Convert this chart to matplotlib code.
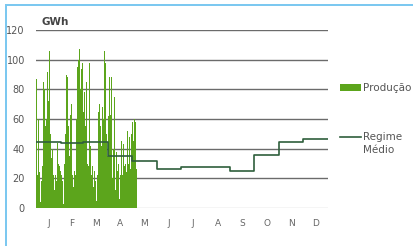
import numpy as np
import matplotlib
matplotlib.use('Agg')
import matplotlib.pyplot as plt
from matplotlib.patches import Rectangle
from matplotlib.lines import Line2D

# daily production (GWh), from 1 January
producao = [87, 22, 32, 60, 24, 4, 18, 30, 28, 85, 80, 55, 54, 60, 92, 72, 106, 62, 50, 34,
            40, 22, 26, 12, 22, 18, 44, 32, 30, 28, 25, 22, 42, 18, 3, 30, 50, 103, 90, 88,
            55, 35, 30, 63, 70, 22, 14, 8, 25, 22, 60, 95, 82, 100, 107, 80, 94, 80, 98, 65,
            78, 55, 80, 85, 30, 28, 98, 80, 42, 22, 28, 14, 38, 25, 18, 5, 22, 30, 65, 70,
            55, 42, 52, 68, 60, 106, 98, 60, 50, 35, 62, 88, 50, 63, 88, 20, 40, 30, 75, 12,
            38, 25, 12, 30, 6, 22, 45, 32, 22, 43, 28, 30, 40, 24, 52, 30, 48, 38, 26, 50,
            58, 45, 30, 60, 58, 26]

# monthly average regime (GWh/day)
regime_medio = [44.3, 43.6, 44.3, 35.2, 31.6, 26.4, 27.8, 27.8, 25.0, 35.5, 44.2, 46.5]

meses = ['J', 'F', 'M', 'A', 'M', 'J', 'J', 'A', 'S', 'O', 'N', 'D']
dias_mes = [31, 28, 31, 30, 31, 30, 31, 31, 30, 31, 30, 31]

W, H = 413, 247
fig = plt.figure(figsize=(W / 100, H / 100), dpi=100)


def fx(px):
  return px / W


def fy(py):
  return 1 - py / H


ax = fig.add_axes([fx(36), fy(208), fx(328) - fx(36), fy(30) - fy(208)])

inicio = np.concatenate([[0], np.cumsum(dias_mes)])
centros = (inicio[:-1] + inicio[1:]) / 2

ax.bar(np.arange(len(producao)) + 0.5, producao, width=1.0, color='#5ca51c', linewidth=0, zorder=2)

xs = list(inicio)
ys = regime_medio + [regime_medio[-1]]
ax.step(xs, ys, where='post', color='#2f5f3c', lw=1.2, zorder=3)

for v in range(20, 121, 20):
  ax.axhline(v, color='#6b6b6b', lw=1.0, zorder=1)
ax.axhline(0, color='#d0d0d0', lw=1.0, zorder=1)

ax.set_xlim(0, 365)
ax.set_ylim(0, 120)
ax.set_yticks(range(0, 121, 20))
ax.set_xticks(centros)
ax.set_xticklabels(meses)
ax.tick_params(axis='y', length=0, pad=8, labelsize=7, labelcolor='#555555')
ax.tick_params(axis='x', length=0, pad=8, labelsize=6.5, labelcolor='#666666')
for s in ax.spines.values():
  s.set_visible(False)

fig.text(fx(42), fy(22), 'GWh', fontsize=7.5, color='#444444', fontweight='semibold', va='center')

# legend
fig.add_artist(Rectangle((fx(340), fy(91)), fx(21), fy(84) - fy(91), color='#5ca51c', lw=0))
fig.text(fx(363), fy(88), 'Produção', fontsize=7.5, color='#555555', va='center')
fig.add_artist(Line2D([fx(340), fx(361)], [fy(137), fy(137)], color='#2f5f3c', lw=1.2))
fig.text(fx(363), fy(137), 'Regime', fontsize=7.5, color='#555555', va='center')
fig.text(fx(363), fy(150), 'Médio', fontsize=7.5, color='#555555', va='center')

# blue frame (top and left)
fig.add_artist(Rectangle((fx(5), fy(6)), fx(W) - fx(5), fy(4) - fy(6), color='#7cc8f0', lw=0))
fig.add_artist(Rectangle((fx(5), fy(246)), fx(2), fy(4) - fy(246), color='#7cc8f0', lw=0))

fig.savefig('out.png', dpi=100)
